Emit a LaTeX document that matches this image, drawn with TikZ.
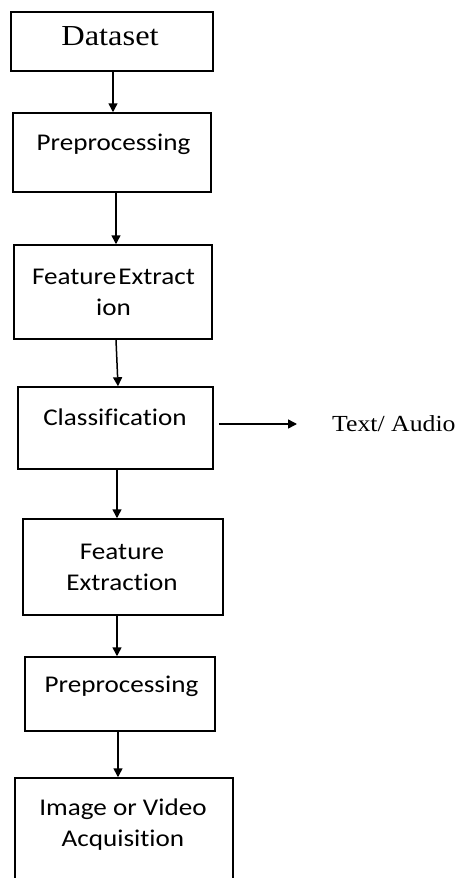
\documentclass[tikz,border=0pt]{standalone}
\usepackage{fontspec}
\usetikzlibrary{arrows.meta}
\newfontfamily\serifface[FakeStretch=1.12]{Liberation Serif}
\newfontfamily\sansface[FakeStretch=1.13,Ligatures={NoCommon,NoContextual}]{Carlito}
\begin{document}
\begin{tikzpicture}[x=1pt,y=-1pt,
  box/.style={draw=black, line width=1.5pt, rectangle, inner sep=0pt},
  lbl/.style={inner sep=0pt, text=black, align=center,
    font=\sansface\fontsize{24}{31}\selectfont},
  toplbl/.style={inner sep=0pt, text=black,
    font=\serifface\fontsize{29}{34}\selectfont},
  outlbl/.style={inner sep=0pt, text=black,
    font=\serifface\fontsize{23}{28}\selectfont},
  arr/.style={draw=black, line width=1.5pt,
    -{Triangle[length=9pt,width=9pt]}}]

\useasboundingbox (0,0) rectangle (465,878);

% boxes of the pipeline, top to bottom
\node[box, minimum width=202pt, minimum height=59pt]  (ds)  at (112,41.5) {};
\node[box, minimum width=198pt, minimum height=79pt]  (pp1) at (112,152.5) {};
\node[box, minimum width=198pt, minimum height=94pt]  (fe1) at (113,292) {};
\node[box, minimum width=195pt, minimum height=82pt]  (cl)  at (115.5,428) {};
\node[box, minimum width=200pt, minimum height=96pt]  (fe2) at (123,567) {};
\node[box, minimum width=190pt, minimum height=74pt]  (pp2) at (120,694) {};
\node[box, minimum width=218pt, minimum height=104pt] (acq) at (124,830) {};

% box texts
\node[toplbl, anchor=base] (tds)  at (110,45)   {Dataset};
\node[lbl, anchor=base]    (tpp1) at (113.5,150) {Preprocessing};
\node[lbl]                 (tfe1) at (113.5,292) {Feature\kern2pt Extract\\ion};
\node[lbl, anchor=base]    (tcl)  at (115,425)   {Classification};
\node[lbl]                 (tfe2) at (122,567)   {Feature\\Extraction};
\node[lbl, anchor=base]    (tpp2) at (121.5,692) {Preprocessing};
\node[lbl]                 (tacq) at (123,825)   {Image or Video\\Acquisition};

% output label
\node[outlbl, anchor=west] (out) at (332,424) {Text/ Audio};

% connectors
\draw[arr] ([xshift=1pt]ds.south)    -- ([xshift=1pt]pp1.north);
\draw[arr] ([xshift=4pt]pp1.south)   -- ([xshift=3pt]fe1.north);
\draw[arr] ([xshift=3pt]fe1.south)   -- ([xshift=2.5pt]cl.north);
\draw[arr] ([xshift=1.5pt]cl.south)  -- ([xshift=-6pt]fe2.north);
\draw[arr] ([xshift=-6pt]fe2.south)  -- ([xshift=-3pt]pp2.north);
\draw[arr] ([xshift=-2pt]pp2.south)  -- ([xshift=-6pt]acq.north);
\draw[arr] ([xshift=5pt]cl.east |- out.west) -- ([xshift=-35pt]out.west);

\end{tikzpicture}
\end{document}
